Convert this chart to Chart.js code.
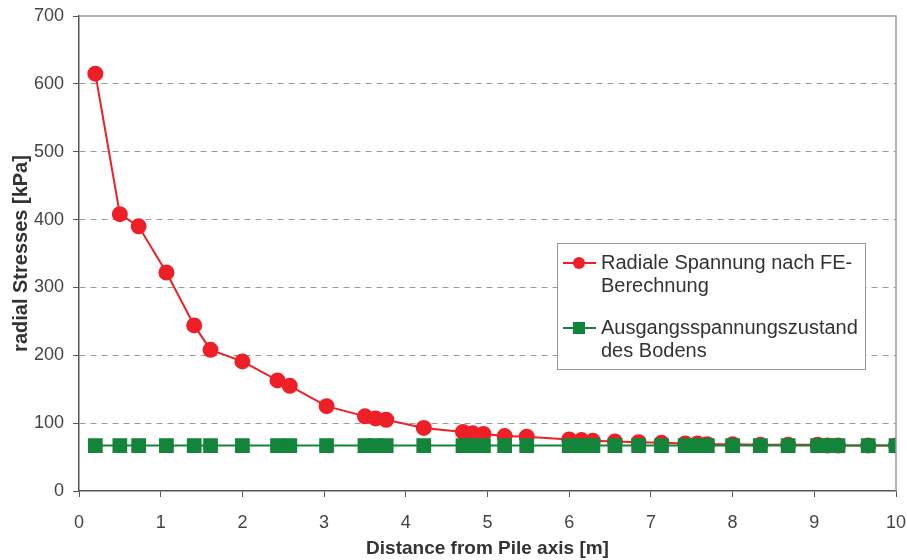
<!DOCTYPE html>
<html>
<head>
<meta charset="utf-8">
<script src="https://cdn.jsdelivr.net/npm/chart.js@4/dist/chart.umd.min.js"></script>
<style>
  html, body { margin: 0; padding: 0; background: #fff; }
  #wrap { width: 907px; height: 560px; }
</style>
</head>
<body>
<div id="wrap"><canvas id="stressChart"></canvas></div>
<script>
// Werte
const distances = [0.2, 0.5, 0.73, 1.07, 1.41, 1.61, 2.0, 2.43, 2.58, 3.03, 3.50, 3.63, 3.76, 4.22, 4.70, 4.82, 4.95, 5.21, 5.48, 6.0, 6.15, 6.29, 6.56, 6.85, 7.13, 7.42, 7.57, 7.69, 8.0, 8.34, 8.68, 9.04, 9.16, 9.29, 9.66, 10.0];
const radialStress = [615, 408, 390, 322, 244, 208, 191, 163, 155, 125, 110, 107, 105, 93, 87, 85, 84, 81, 80, 76, 75, 74, 73, 72, 71, 70, 70, 69, 69, 68, 68, 68, 67, 67, 67, 67];
const initialStress = [67, 67, 67, 67, 67, 67, 67, 67, 67, 67, 67, 67, 67, 67, 67, 67, 67, 67, 67, 67, 67, 67, 67, 67, 67, 67, 67, 67, 67, 67, 67, 67, 67, 67, 67, 67];
const legendLines = [["Radiale Spannung nach FE-", "Berechnung"], ["Ausgangsspannungszustand", "des Bodens"]];
const xTicks = [0, 1, 2, 3, 4, 5, 6, 7, 8, 9, 10];
const yTicks = [0, 100, 200, 300, 400, 500, 600, 700];

const RED = '#ee1f26';
const GREEN = '#12853a';
const FONT = "'Liberation Sans', Arial, sans-serif";

const toPoints = (xs, ys) => xs.map((x, i) => ({ x: x, y: ys[i] }));

// Rahmen oben/rechts und Legende
const framePlugin = {
    id: 'frame',
    afterDraw(chart) {
        const ctx = chart.ctx;
        const a = chart.chartArea;
        ctx.save();
        ctx.strokeStyle = '#9a9a9a';
        ctx.lineWidth = 1.5;
        ctx.beginPath();
        ctx.moveTo(a.left, a.top);
        ctx.lineTo(a.right, a.top);
        ctx.lineTo(a.right, a.bottom);
        ctx.stroke();

        // Legende
        const bx = 557, by = 243, bw = 308, bh = 126;
        ctx.fillStyle = '#fff';
        ctx.fillRect(bx, by, bw, bh);
        ctx.strokeStyle = '#9a9a9a';
        ctx.lineWidth = 1;
        ctx.strokeRect(bx + 0.5, by + 0.5, bw, bh);

        const rows = [263, 328];
        chart.data.datasets.forEach((ds, i) => {
            const y = rows[i];
            ctx.strokeStyle = ds.borderColor;
            ctx.lineWidth = 2;
            ctx.beginPath();
            ctx.moveTo(563, y);
            ctx.lineTo(596, y);
            ctx.stroke();
            ctx.fillStyle = ds.pointBackgroundColor;
            if (ds.pointStyle === 'rect') {
                ctx.fillRect(573, y - 6, 12, 12);
            } else {
                ctx.beginPath();
                ctx.arc(579, y, 6, 0, Math.PI * 2);
                ctx.fill();
            }
            ctx.fillStyle = '#333';
            ctx.font = '20px ' + FONT;
            ctx.textBaseline = 'middle';
            legendLines[i].forEach((t, j) => ctx.fillText(t, 601, y + j * 23));
        });
        ctx.restore();
    }
};

const ctx = document.getElementById('stressChart').getContext('2d');
const stressChart = new Chart(ctx, {
    type: 'scatter',
    data: {
        datasets: [{
            label: legendLines[0].join(' '),
            data: toPoints(distances, radialStress),
            showLine: true,
            borderColor: RED,
            backgroundColor: RED,
            pointBackgroundColor: RED,
            pointBorderColor: RED,
            pointStyle: 'circle',
            pointRadius: 7,
            borderWidth: 2,
            order: 2
        }, {
            label: legendLines[1].join(' '),
            data: toPoints(distances, initialStress),
            showLine: true,
            borderColor: GREEN,
            backgroundColor: GREEN,
            pointBackgroundColor: GREEN,
            pointBorderColor: GREEN,
            pointStyle: 'rect',
            pointRadius: 9,
            borderWidth: 2,
            order: 1
        }]
    },
    options: {
        responsive: true,
        maintainAspectRatio: false,
        animation: false,
        layout: { padding: { top: 16, right: 11, left: 0, bottom: 0 } },
        plugins: {
            legend: { display: false },
            tooltip: { enabled: false }
        },
        scales: {
            x: {
                type: 'linear',
                min: 0,
                max: 10,
                afterFit: s => { s.height = 69; s.paddingLeft = 0; s.paddingRight = 0; },
                afterBuildTicks: s => { s.ticks = xTicks.map(v => ({ value: v })); },
                grid: {
                    drawOnChartArea: false,
                    drawTicks: true,
                    tickLength: 6,
                    tickColor: '#555',
                    tickWidth: 1
                },
                border: { color: '#555', width: 1.5 },
                ticks: {
                    color: '#444',
                    padding: 15,
                    maxRotation: 0,
                    font: { family: FONT, size: 18 }
                },
                title: {
                    display: true,
                    text: 'Distance from Pile axis [m]',
                    color: '#333',
                    padding: { top: 0, bottom: 0 },
                    font: { family: FONT, size: 19, weight: 'bold' }
                }
            },
            y: {
                min: 0,
                max: 700,
                afterFit: s => { s.width = 79; s.paddingTop = 0; s.paddingBottom = 0; },
                afterBuildTicks: s => { s.ticks = yTicks.map(v => ({ value: v })); },
                grid: {
                    color: c => (c.tick && (c.tick.value === 0 || c.tick.value === 700)) ? 'rgba(0,0,0,0)' : '#9a9a9a',
                    lineWidth: 1,
                    drawTicks: true,
                    tickLength: 6,
                    tickColor: '#555',
                    tickBorderDash: []
                },
                border: { color: '#555', width: 1.5, dash: [6, 5] },
                ticks: {
                    color: '#444',
                    padding: 9,
                    font: { family: FONT, size: 18 }
                },
                title: {
                    display: true,
                    text: 'radial Stresses [kPa]',
                    color: '#333',
                    padding: { top: 9, bottom: 0 },
                    font: { family: FONT, size: 20, weight: 'bold' }
                }
            }
        }
    },
    plugins: [framePlugin]
});
</script>
</body>
</html>
